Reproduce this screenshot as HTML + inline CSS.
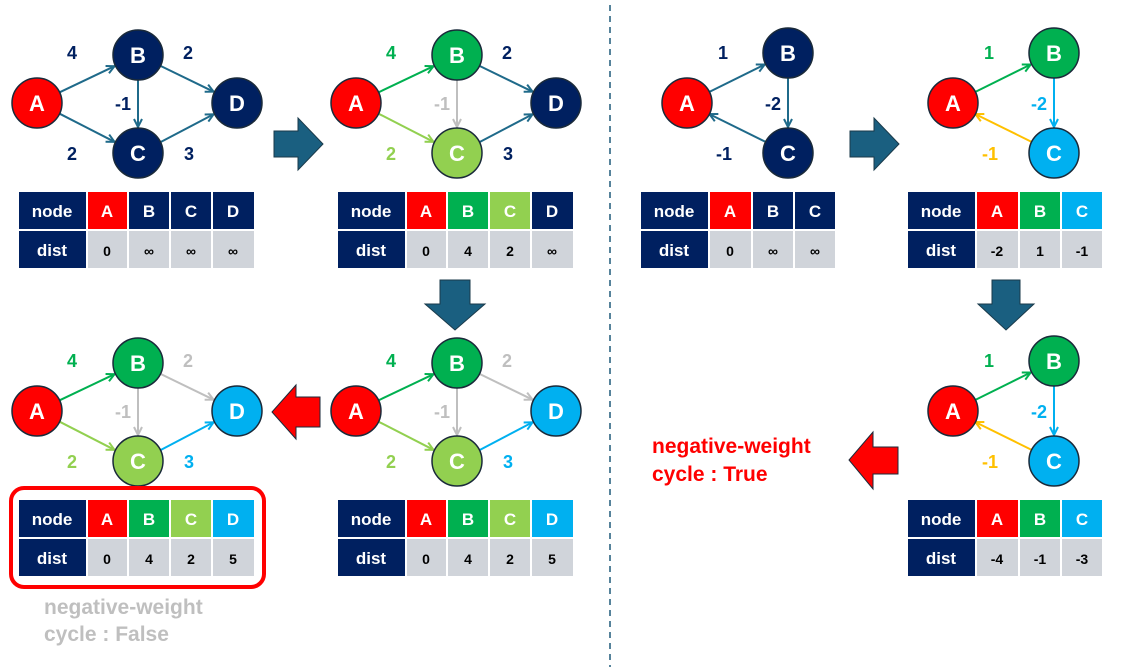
<!DOCTYPE html>
<html><head><meta charset="utf-8"><style>
html,body{margin:0;padding:0;background:#fff}
svg text{font-family:"Liberation Sans",sans-serif;font-weight:bold}
</style></head><body>
<svg width="1127" height="667" viewBox="0 0 1127 667" xmlns="http://www.w3.org/2000/svg">
<defs>
<marker id="mT" markerUnits="userSpaceOnUse" markerWidth="12" markerHeight="12" refX="9" refY="5" orient="auto"><path d="M1,1 L9,5 L1,9" fill="none" stroke="#1f6a8a" stroke-width="2"/></marker>
<marker id="mG" markerUnits="userSpaceOnUse" markerWidth="12" markerHeight="12" refX="9" refY="5" orient="auto"><path d="M1,1 L9,5 L1,9" fill="none" stroke="#00b050" stroke-width="2"/></marker>
<marker id="mL" markerUnits="userSpaceOnUse" markerWidth="12" markerHeight="12" refX="9" refY="5" orient="auto"><path d="M1,1 L9,5 L1,9" fill="none" stroke="#92d050" stroke-width="2"/></marker>
<marker id="mY" markerUnits="userSpaceOnUse" markerWidth="12" markerHeight="12" refX="9" refY="5" orient="auto"><path d="M1,1 L9,5 L1,9" fill="none" stroke="#bfbfbf" stroke-width="2"/></marker>
<marker id="mB" markerUnits="userSpaceOnUse" markerWidth="12" markerHeight="12" refX="9" refY="5" orient="auto"><path d="M1,1 L9,5 L1,9" fill="none" stroke="#00b0f0" stroke-width="2"/></marker>
<marker id="mO" markerUnits="userSpaceOnUse" markerWidth="12" markerHeight="12" refX="9" refY="5" orient="auto"><path d="M1,1 L9,5 L1,9" fill="none" stroke="#ffc000" stroke-width="2"/></marker>
</defs>

<line x1="610" y1="5" x2="610" y2="667" stroke="#1f5a7a" stroke-width="1.5" stroke-dasharray="6,5"/>

<!-- Graph 1 -->
<g stroke-width="2" fill="none">
<line x1="59.6" y1="92.3" x2="114.5" y2="66.2" stroke="#1f6a8a" marker-end="url(#mT)"/>
<line x1="59.6" y1="113.7" x2="114.5" y2="141.8" stroke="#1f6a8a" marker-end="url(#mT)"/>
<line x1="160.5" y1="65.9" x2="213.6" y2="91.7" stroke="#1f6a8a" marker-end="url(#mT)"/>
<line x1="160.5" y1="142.1" x2="213.6" y2="114.3" stroke="#1f6a8a" marker-end="url(#mT)"/>
<line x1="138" y1="80" x2="138" y2="127" stroke="#1f6a8a" marker-end="url(#mT)"/>
</g>
<g stroke="#1a2a3a" stroke-width="1.5">
<circle cx="37" cy="103" r="25" fill="#ff0000"/><circle cx="138" cy="55" r="25" fill="#002060"/>
<circle cx="138" cy="153" r="25" fill="#002060"/><circle cx="237" cy="103" r="25" fill="#002060"/>
</g>
<g fill="#fff" font-size="22" text-anchor="middle">
<text x="37" y="111">A</text><text x="138" y="63">B</text><text x="138" y="161">C</text><text x="237" y="111">D</text>
</g>
<g fill="#002060" font-size="18" text-anchor="middle">
<text x="72" y="59">4</text><text x="188" y="59">2</text><text x="123" y="110">-1</text><text x="72" y="160">2</text><text x="189" y="160">3</text>
</g>

<!-- Graph 2 -->
<g transform="translate(319,0)">
<g stroke-width="2" fill="none">
<line x1="59.6" y1="92.3" x2="114.5" y2="66.2" stroke="#00b050" marker-end="url(#mG)"/>
<line x1="59.6" y1="113.7" x2="114.5" y2="141.8" stroke="#92d050" marker-end="url(#mL)"/>
<line x1="160.5" y1="65.9" x2="213.6" y2="91.7" stroke="#1f6a8a" marker-end="url(#mT)"/>
<line x1="160.5" y1="142.1" x2="213.6" y2="114.3" stroke="#1f6a8a" marker-end="url(#mT)"/>
<line x1="138" y1="80" x2="138" y2="127" stroke="#bfbfbf" marker-end="url(#mY)"/>
</g>
<g stroke="#1a2a3a" stroke-width="1.5">
<circle cx="37" cy="103" r="25" fill="#ff0000"/><circle cx="138" cy="55" r="25" fill="#00b050"/>
<circle cx="138" cy="153" r="25" fill="#92d050"/><circle cx="237" cy="103" r="25" fill="#002060"/>
</g>
<g fill="#fff" font-size="22" text-anchor="middle">
<text x="37" y="111">A</text><text x="138" y="63">B</text><text x="138" y="161">C</text><text x="237" y="111">D</text>
</g>
<g font-size="18" text-anchor="middle">
<text x="72" y="59" fill="#00b050">4</text><text x="188" y="59" fill="#002060">2</text><text x="123" y="110" fill="#bfbfbf">-1</text><text x="72" y="160" fill="#92d050">2</text><text x="189" y="160" fill="#002060">3</text>
</g>
</g>

<!-- Graph 3 (bottom middle) -->
<g transform="translate(319,308)">
<g stroke-width="2" fill="none">
<line x1="59.6" y1="92.3" x2="114.5" y2="66.2" stroke="#00b050" marker-end="url(#mG)"/>
<line x1="59.6" y1="113.7" x2="114.5" y2="141.8" stroke="#92d050" marker-end="url(#mL)"/>
<line x1="160.5" y1="65.9" x2="213.6" y2="91.7" stroke="#bfbfbf" marker-end="url(#mY)"/>
<line x1="160.5" y1="142.1" x2="213.6" y2="114.3" stroke="#00b0f0" marker-end="url(#mB)"/>
<line x1="138" y1="80" x2="138" y2="127" stroke="#bfbfbf" marker-end="url(#mY)"/>
</g>
<g stroke="#1a2a3a" stroke-width="1.5">
<circle cx="37" cy="103" r="25" fill="#ff0000"/><circle cx="138" cy="55" r="25" fill="#00b050"/>
<circle cx="138" cy="153" r="25" fill="#92d050"/><circle cx="237" cy="103" r="25" fill="#00b0f0"/>
</g>
<g fill="#fff" font-size="22" text-anchor="middle">
<text x="37" y="111">A</text><text x="138" y="63">B</text><text x="138" y="161">C</text><text x="237" y="111">D</text>
</g>
<g font-size="18" text-anchor="middle">
<text x="72" y="59" fill="#00b050">4</text><text x="188" y="59" fill="#bfbfbf">2</text><text x="123" y="110" fill="#bfbfbf">-1</text><text x="72" y="160" fill="#92d050">2</text><text x="189" y="160" fill="#00b0f0">3</text>
</g>
</g>

<!-- Graph 4 (bottom left) -->
<g transform="translate(0,308)">
<g stroke-width="2" fill="none">
<line x1="59.6" y1="92.3" x2="114.5" y2="66.2" stroke="#00b050" marker-end="url(#mG)"/>
<line x1="59.6" y1="113.7" x2="114.5" y2="141.8" stroke="#92d050" marker-end="url(#mL)"/>
<line x1="160.5" y1="65.9" x2="213.6" y2="91.7" stroke="#bfbfbf" marker-end="url(#mY)"/>
<line x1="160.5" y1="142.1" x2="213.6" y2="114.3" stroke="#00b0f0" marker-end="url(#mB)"/>
<line x1="138" y1="80" x2="138" y2="127" stroke="#bfbfbf" marker-end="url(#mY)"/>
</g>
<g stroke="#1a2a3a" stroke-width="1.5">
<circle cx="37" cy="103" r="25" fill="#ff0000"/><circle cx="138" cy="55" r="25" fill="#00b050"/>
<circle cx="138" cy="153" r="25" fill="#92d050"/><circle cx="237" cy="103" r="25" fill="#00b0f0"/>
</g>
<g fill="#fff" font-size="22" text-anchor="middle">
<text x="37" y="111">A</text><text x="138" y="63">B</text><text x="138" y="161">C</text><text x="237" y="111">D</text>
</g>
<g font-size="18" text-anchor="middle">
<text x="72" y="59" fill="#00b050">4</text><text x="188" y="59" fill="#bfbfbf">2</text><text x="123" y="110" fill="#bfbfbf">-1</text><text x="72" y="160" fill="#92d050">2</text><text x="189" y="160" fill="#00b0f0">3</text>
</g>
</g>

<!-- Tables left -->
<g font-size="17" text-anchor="middle">
<!-- T1 -->
<rect x="19" y="192" width="67" height="37" fill="#002060"/><text x="52" y="217" fill="#fff">node</text>
<rect x="88" y="192" width="39" height="37" fill="#ff0000"/><text x="107" y="217" fill="#fff">A</text>
<rect x="129" y="192" width="40" height="37" fill="#002060"/><text x="149" y="217" fill="#fff">B</text>
<rect x="171" y="192" width="40" height="37" fill="#002060"/><text x="191" y="217" fill="#fff">C</text>
<rect x="213" y="192" width="41" height="37" fill="#002060"/><text x="233" y="217" fill="#fff">D</text>
<rect x="19" y="231" width="67" height="37" fill="#002060"/><text x="52" y="256" fill="#fff">dist</text>
<rect x="88" y="231" width="39" height="37" fill="#d0d4da"/><text x="107" y="256" font-size="14" fill="#000">0</text>
<rect x="129" y="231" width="40" height="37" fill="#d0d4da"/><text x="149" y="256" font-size="14" fill="#000">∞</text>
<rect x="171" y="231" width="40" height="37" fill="#d0d4da"/><text x="191" y="256" font-size="14" fill="#000">∞</text>
<rect x="213" y="231" width="41" height="37" fill="#d0d4da"/><text x="233" y="256" font-size="14" fill="#000">∞</text>
<!-- T2 -->
<g transform="translate(319,0)">
<rect x="19" y="192" width="67" height="37" fill="#002060"/><text x="52" y="217" fill="#fff">node</text>
<rect x="88" y="192" width="39" height="37" fill="#ff0000"/><text x="107" y="217" fill="#fff">A</text>
<rect x="129" y="192" width="40" height="37" fill="#00b050"/><text x="149" y="217" fill="#fff">B</text>
<rect x="171" y="192" width="40" height="37" fill="#92d050"/><text x="191" y="217" fill="#fff">C</text>
<rect x="213" y="192" width="41" height="37" fill="#002060"/><text x="233" y="217" fill="#fff">D</text>
<rect x="19" y="231" width="67" height="37" fill="#002060"/><text x="52" y="256" fill="#fff">dist</text>
<rect x="88" y="231" width="39" height="37" fill="#d0d4da"/><text x="107" y="256" font-size="14" fill="#000">0</text>
<rect x="129" y="231" width="40" height="37" fill="#d0d4da"/><text x="149" y="256" font-size="14" fill="#000">4</text>
<rect x="171" y="231" width="40" height="37" fill="#d0d4da"/><text x="191" y="256" font-size="14" fill="#000">2</text>
<rect x="213" y="231" width="41" height="37" fill="#d0d4da"/><text x="233" y="256" font-size="14" fill="#000">∞</text>
</g>
<!-- T3 -->
<g transform="translate(319,308)">
<rect x="19" y="192" width="67" height="37" fill="#002060"/><text x="52" y="217" fill="#fff">node</text>
<rect x="88" y="192" width="39" height="37" fill="#ff0000"/><text x="107" y="217" fill="#fff">A</text>
<rect x="129" y="192" width="40" height="37" fill="#00b050"/><text x="149" y="217" fill="#fff">B</text>
<rect x="171" y="192" width="40" height="37" fill="#92d050"/><text x="191" y="217" fill="#fff">C</text>
<rect x="213" y="192" width="41" height="37" fill="#00b0f0"/><text x="233" y="217" fill="#fff">D</text>
<rect x="19" y="231" width="67" height="37" fill="#002060"/><text x="52" y="256" fill="#fff">dist</text>
<rect x="88" y="231" width="39" height="37" fill="#d0d4da"/><text x="107" y="256" font-size="14" fill="#000">0</text>
<rect x="129" y="231" width="40" height="37" fill="#d0d4da"/><text x="149" y="256" font-size="14" fill="#000">4</text>
<rect x="171" y="231" width="40" height="37" fill="#d0d4da"/><text x="191" y="256" font-size="14" fill="#000">2</text>
<rect x="213" y="231" width="41" height="37" fill="#d0d4da"/><text x="233" y="256" font-size="14" fill="#000">5</text>
</g>
<!-- T4 -->
<g transform="translate(0,308)">
<rect x="19" y="192" width="67" height="37" fill="#002060"/><text x="52" y="217" fill="#fff">node</text>
<rect x="88" y="192" width="39" height="37" fill="#ff0000"/><text x="107" y="217" fill="#fff">A</text>
<rect x="129" y="192" width="40" height="37" fill="#00b050"/><text x="149" y="217" fill="#fff">B</text>
<rect x="171" y="192" width="40" height="37" fill="#92d050"/><text x="191" y="217" fill="#fff">C</text>
<rect x="213" y="192" width="41" height="37" fill="#00b0f0"/><text x="233" y="217" fill="#fff">D</text>
<rect x="19" y="231" width="67" height="37" fill="#002060"/><text x="52" y="256" fill="#fff">dist</text>
<rect x="88" y="231" width="39" height="37" fill="#d0d4da"/><text x="107" y="256" font-size="14" fill="#000">0</text>
<rect x="129" y="231" width="40" height="37" fill="#d0d4da"/><text x="149" y="256" font-size="14" fill="#000">4</text>
<rect x="171" y="231" width="40" height="37" fill="#d0d4da"/><text x="191" y="256" font-size="14" fill="#000">2</text>
<rect x="213" y="231" width="41" height="37" fill="#d0d4da"/><text x="233" y="256" font-size="14" fill="#000">5</text>
</g>
</g>
<rect x="11" y="488" width="253" height="99" rx="13" fill="none" stroke="#ff0000" stroke-width="4"/>
<text x="44" y="614" font-size="21" fill="#bfbfbf">negative-weight</text>
<text x="44" y="641" font-size="21" fill="#bfbfbf">cycle : False</text>

<!-- fat arrows -->
<polygon points="274,131 298,131 298,118 323,144 298,170 298,157 274,157" fill="#1a5f80" stroke="#1a3a4a" stroke-width="1"/>
<polygon points="440,280 470,280 470,304 485,304 455,330 425,304 440,304" fill="#1a5f80" stroke="#1a3a4a" stroke-width="1"/>
<polygon points="320,397 296,397 296,385 272,412 296,439 296,427 320,427" fill="#ff0000" stroke="#1a2a3a" stroke-width="1"/>
<polygon points="850,131 874,131 874,118 899,144 874,170 874,157 850,157" fill="#1a5f80" stroke="#1a3a4a" stroke-width="1"/>
<polygon points="992,280 1020,280 1020,304 1034,304 1006,330 978,304 992,304" fill="#1a5f80" stroke="#1a3a4a" stroke-width="1"/>
<polygon points="898,447 873,447 873,432 849,460 873,489 873,474 898,474" fill="#ff0000" stroke="#1a2a3a" stroke-width="1"/>

<!-- Right R1 -->
<g stroke-width="2" fill="none">
<line x1="709.4" y1="91.9" x2="764.7" y2="64.5" stroke="#1f6a8a" marker-end="url(#mT)"/>
<line x1="788" y1="78" x2="788" y2="127" stroke="#1f6a8a" marker-end="url(#mT)"/>
<line x1="765.6" y1="141.9" x2="709.4" y2="114.1" stroke="#1f6a8a" marker-end="url(#mT)"/>
</g>
<g stroke="#1a2a3a" stroke-width="1.5">
<circle cx="687" cy="103" r="25" fill="#ff0000"/><circle cx="788" cy="53" r="25" fill="#002060"/><circle cx="788" cy="153" r="25" fill="#002060"/>
</g>
<g fill="#fff" font-size="22" text-anchor="middle"><text x="687" y="111">A</text><text x="788" y="61">B</text><text x="788" y="161">C</text></g>
<g fill="#002060" font-size="18" text-anchor="middle"><text x="723" y="59">1</text><text x="773" y="110">-2</text><text x="724" y="160">-1</text></g>

<!-- R2 and R3 -->
<g transform="translate(266,0)">
<g stroke-width="2" fill="none">
<line x1="709.4" y1="91.9" x2="764.7" y2="64.5" stroke="#00b050" marker-end="url(#mG)"/>
<line x1="788" y1="78" x2="788" y2="127" stroke="#00b0f0" marker-end="url(#mB)"/>
<line x1="765.6" y1="141.9" x2="709.4" y2="114.1" stroke="#ffc000" marker-end="url(#mO)"/>
</g>
<g stroke="#1a2a3a" stroke-width="1.5">
<circle cx="687" cy="103" r="25" fill="#ff0000"/><circle cx="788" cy="53" r="25" fill="#00b050"/><circle cx="788" cy="153" r="25" fill="#00b0f0"/>
</g>
<g fill="#fff" font-size="22" text-anchor="middle"><text x="687" y="111">A</text><text x="788" y="61">B</text><text x="788" y="161">C</text></g>
<g font-size="18" text-anchor="middle"><text x="723" y="59" fill="#00b050">1</text><text x="773" y="110" fill="#00b0f0">-2</text><text x="724" y="160" fill="#ffc000">-1</text></g>
</g>
<g transform="translate(266,308)">
<g stroke-width="2" fill="none">
<line x1="709.4" y1="91.9" x2="764.7" y2="64.5" stroke="#00b050" marker-end="url(#mG)"/>
<line x1="788" y1="78" x2="788" y2="127" stroke="#00b0f0" marker-end="url(#mB)"/>
<line x1="765.6" y1="141.9" x2="709.4" y2="114.1" stroke="#ffc000" marker-end="url(#mO)"/>
</g>
<g stroke="#1a2a3a" stroke-width="1.5">
<circle cx="687" cy="103" r="25" fill="#ff0000"/><circle cx="788" cy="53" r="25" fill="#00b050"/><circle cx="788" cy="153" r="25" fill="#00b0f0"/>
</g>
<g fill="#fff" font-size="22" text-anchor="middle"><text x="687" y="111">A</text><text x="788" y="61">B</text><text x="788" y="161">C</text></g>
<g font-size="18" text-anchor="middle"><text x="723" y="59" fill="#00b050">1</text><text x="773" y="110" fill="#00b0f0">-2</text><text x="724" y="160" fill="#ffc000">-1</text></g>
</g>

<!-- Right tables -->
<g font-size="17" text-anchor="middle">
<rect x="641" y="192" width="67" height="37" fill="#002060"/><text x="674" y="217" fill="#fff">node</text>
<rect x="710" y="192" width="41" height="37" fill="#ff0000"/><text x="730" y="217" fill="#fff">A</text>
<rect x="753" y="192" width="40" height="37" fill="#002060"/><text x="773" y="217" fill="#fff">B</text>
<rect x="795" y="192" width="40" height="37" fill="#002060"/><text x="815" y="217" fill="#fff">C</text>
<rect x="641" y="231" width="67" height="37" fill="#002060"/><text x="674" y="256" fill="#fff">dist</text>
<rect x="710" y="231" width="41" height="37" fill="#d0d4da"/><text x="730" y="256" font-size="14" fill="#000">0</text>
<rect x="753" y="231" width="40" height="37" fill="#d0d4da"/><text x="773" y="256" font-size="14" fill="#000">∞</text>
<rect x="795" y="231" width="40" height="37" fill="#d0d4da"/><text x="815" y="256" font-size="14" fill="#000">∞</text>
<g transform="translate(267,0)">
<rect x="641" y="192" width="67" height="37" fill="#002060"/><text x="674" y="217" fill="#fff">node</text>
<rect x="710" y="192" width="41" height="37" fill="#ff0000"/><text x="730" y="217" fill="#fff">A</text>
<rect x="753" y="192" width="40" height="37" fill="#00b050"/><text x="773" y="217" fill="#fff">B</text>
<rect x="795" y="192" width="40" height="37" fill="#00b0f0"/><text x="815" y="217" fill="#fff">C</text>
<rect x="641" y="231" width="67" height="37" fill="#002060"/><text x="674" y="256" fill="#fff">dist</text>
<rect x="710" y="231" width="41" height="37" fill="#d0d4da"/><text x="730" y="256" font-size="14" fill="#000">-2</text>
<rect x="753" y="231" width="40" height="37" fill="#d0d4da"/><text x="773" y="256" font-size="14" fill="#000">1</text>
<rect x="795" y="231" width="40" height="37" fill="#d0d4da"/><text x="815" y="256" font-size="14" fill="#000">-1</text>
</g>
<g transform="translate(267,308)">
<rect x="641" y="192" width="67" height="37" fill="#002060"/><text x="674" y="217" fill="#fff">node</text>
<rect x="710" y="192" width="41" height="37" fill="#ff0000"/><text x="730" y="217" fill="#fff">A</text>
<rect x="753" y="192" width="40" height="37" fill="#00b050"/><text x="773" y="217" fill="#fff">B</text>
<rect x="795" y="192" width="40" height="37" fill="#00b0f0"/><text x="815" y="217" fill="#fff">C</text>
<rect x="641" y="231" width="67" height="37" fill="#002060"/><text x="674" y="256" fill="#fff">dist</text>
<rect x="710" y="231" width="41" height="37" fill="#d0d4da"/><text x="730" y="256" font-size="14" fill="#000">-4</text>
<rect x="753" y="231" width="40" height="37" fill="#d0d4da"/><text x="773" y="256" font-size="14" fill="#000">-1</text>
<rect x="795" y="231" width="40" height="37" fill="#d0d4da"/><text x="815" y="256" font-size="14" fill="#000">-3</text>
</g>
</g>
<text x="652" y="453" font-size="21" fill="#ff0000">negative-weight</text>
<text x="652" y="481" font-size="21" fill="#ff0000">cycle : True</text>
</svg>
</body></html>
